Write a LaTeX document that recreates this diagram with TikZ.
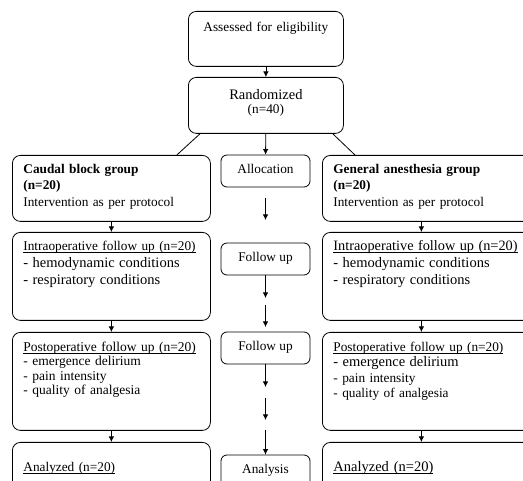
\documentclass[tikz,border=0pt]{standalone}
\usepackage{fontspec}
\setmainfont{Liberation Serif}
\usetikzlibrary{arrows.meta}

\newcommand{\ulhead}[1]{\underline{\smash{#1}}}

\begin{document}
\begin{tikzpicture}[x=1pt, y=-1pt, line width=0.8pt, >={Latex[length=5.5pt,width=5.5pt]},
    box/.style={draw, rounded corners=8pt, anchor=north west, align=left, inner xsep=11pt, inner ysep=3pt, text height=15pt, font=\fontsize{13.3}{16.5}\selectfont, execute at begin node={\lineskiplimit=-20pt}},
    title/.style={draw, rounded corners=8pt, anchor=north west, align=center, text width=147pt, inner xsep=4pt, inner ysep=4pt, font=\fontsize{13.3}{14.5}\selectfont},
    stage/.style={draw, rounded corners=6pt, minimum width=89pt, minimum height=32pt, inner sep=0pt, text height=9pt, text depth=3pt, font=\fontsize{13.3}{14.5}\selectfont}]
  \useasboundingbox (0,0) rectangle (523,481);
  \clip (0,0) rectangle (523,481);

  % top
  \node[title, text height=16pt, text depth=31pt] (Assess) at (188,11) {Assessed for eligibility};
  \node[title, text height=18pt, text depth=30pt] (Rand) at (188,77) {{\fontsize{14.5}{14.5}\selectfont Randomized}\\(n=40)};

  % left column
  \node[box, text width=176pt, text depth=45pt] (Caudal) at (12,155) {\textbf{Caudal block group}\\\textbf{(n=20)}\\Intervention as per protocol};
  \node[box, text width=176pt, text depth=67pt, font=\fontsize{13.3}{17}\selectfont] (IntraL) at (12,232) {\ulhead{Intraoperative follow up (n=20)}\\{\fontsize{14.5}{17}\selectfont - hemodynamic conditions}\\{\fontsize{14.5}{17}\selectfont - respiratory conditions}};
  \node[box, text width=176pt, text height=16pt, text depth=76pt, font=\fontsize{13.5}{14.5}\selectfont] (PostL) at (12,332) {\ulhead{Postoperative follow up (n=20)}\\- emergence delirium\\- pain intensity\\- quality of analgesia};
  \node[box, text width=176pt, text height=26pt, text depth=28pt] (AnalyzedL) at (12,442) {\ulhead{Analyzed (n=20)}};

  % right column
  \node[box, text width=188pt, text depth=45pt] (General) at (322,155) {\textbf{General anesthesia group}\\\textbf{(n=20)}\\Intervention as per protocol};
  \node[box, text width=188pt, text depth=67pt, font=\fontsize{13.3}{17}\selectfont] (IntraR) at (322,232) {{\fontsize{14.3}{17}\selectfont\ulhead{Intraoperative follow up (n=20)}}\\{\fontsize{14.5}{17}\selectfont - hemodynamic conditions}\\{\fontsize{14.5}{17}\selectfont - respiratory conditions}};
  \node[box, text width=188pt, text height=16pt, text depth=76pt, font=\fontsize{13.3}{15.5}\selectfont] (PostR) at (322,332) {\ulhead{Postoperative follow up (n=20)}\\{\fontsize{14.5}{15.5}\selectfont - emergence delirium}\\- pain intensity\\- quality of analgesia};
  \node[box, text width=188pt, text height=26pt, text depth=28pt, font=\fontsize{14.5}{16.5}\selectfont] (AnalyzedR) at (322,442) {\ulhead{Analyzed (n=20)}};

  % middle column
  \node[stage] (Alloc) at (265.5,171) {Allocation};
  \node[stage] (Follow1) at (265.5,259) {Follow up};
  \node[stage] (Follow2) at (265.5,348) {Follow up};
  \node[stage] (Analysis) at (265.5,471) {Analysis};

  \coordinate (M1a) at (265.5,198);
  \coordinate (M1b) at (265.5,220);
  \coordinate (M2b) at (265.5,298);
  \coordinate (M3a) at (265.5,305);
  \coordinate (M3b) at (265.5,327);
  \coordinate (M4b) at (265.5,387);
  \coordinate (M5a) at (265.5,398);
  \coordinate (M5b) at (265.5,420);
  \coordinate (M6a) at (265.5,430);

  % connectors
  \draw[->] (Assess) -- (Rand);
  \draw[->] (Rand) -- (Alloc);
  \draw ([xshift=12pt]Rand.south west) -- ([xshift=-34pt]Caudal.north east);
  \draw ([xshift=-11pt]Rand.south east) -- ([xshift=33pt]General.north west);

  \draw[->] (Caudal) -- (IntraL);
  \draw[->] (IntraL) -- (PostL);
  \draw[->] (PostL) -- (AnalyzedL);

  \draw[->] ([xshift=-6pt]General.south) -- ([xshift=-6pt]IntraR.north);
  \draw[->] ([xshift=-6pt]IntraR.south) -- ([xshift=-6pt]PostR.north);
  \draw[->] ([xshift=-6pt]PostR.south) -- ([xshift=-6pt]AnalyzedR.north);

  \draw[->] (M1a) -- (M1b);
  \draw[->] (Follow1) -- (M2b);
  \draw[->] (M3a) -- (M3b);
  \draw[->] (Follow2) -- (M4b);
  \draw[->] (M5a) -- (M5b);
  \draw[->] (M6a) -- (Analysis);
\end{tikzpicture}
\end{document}
